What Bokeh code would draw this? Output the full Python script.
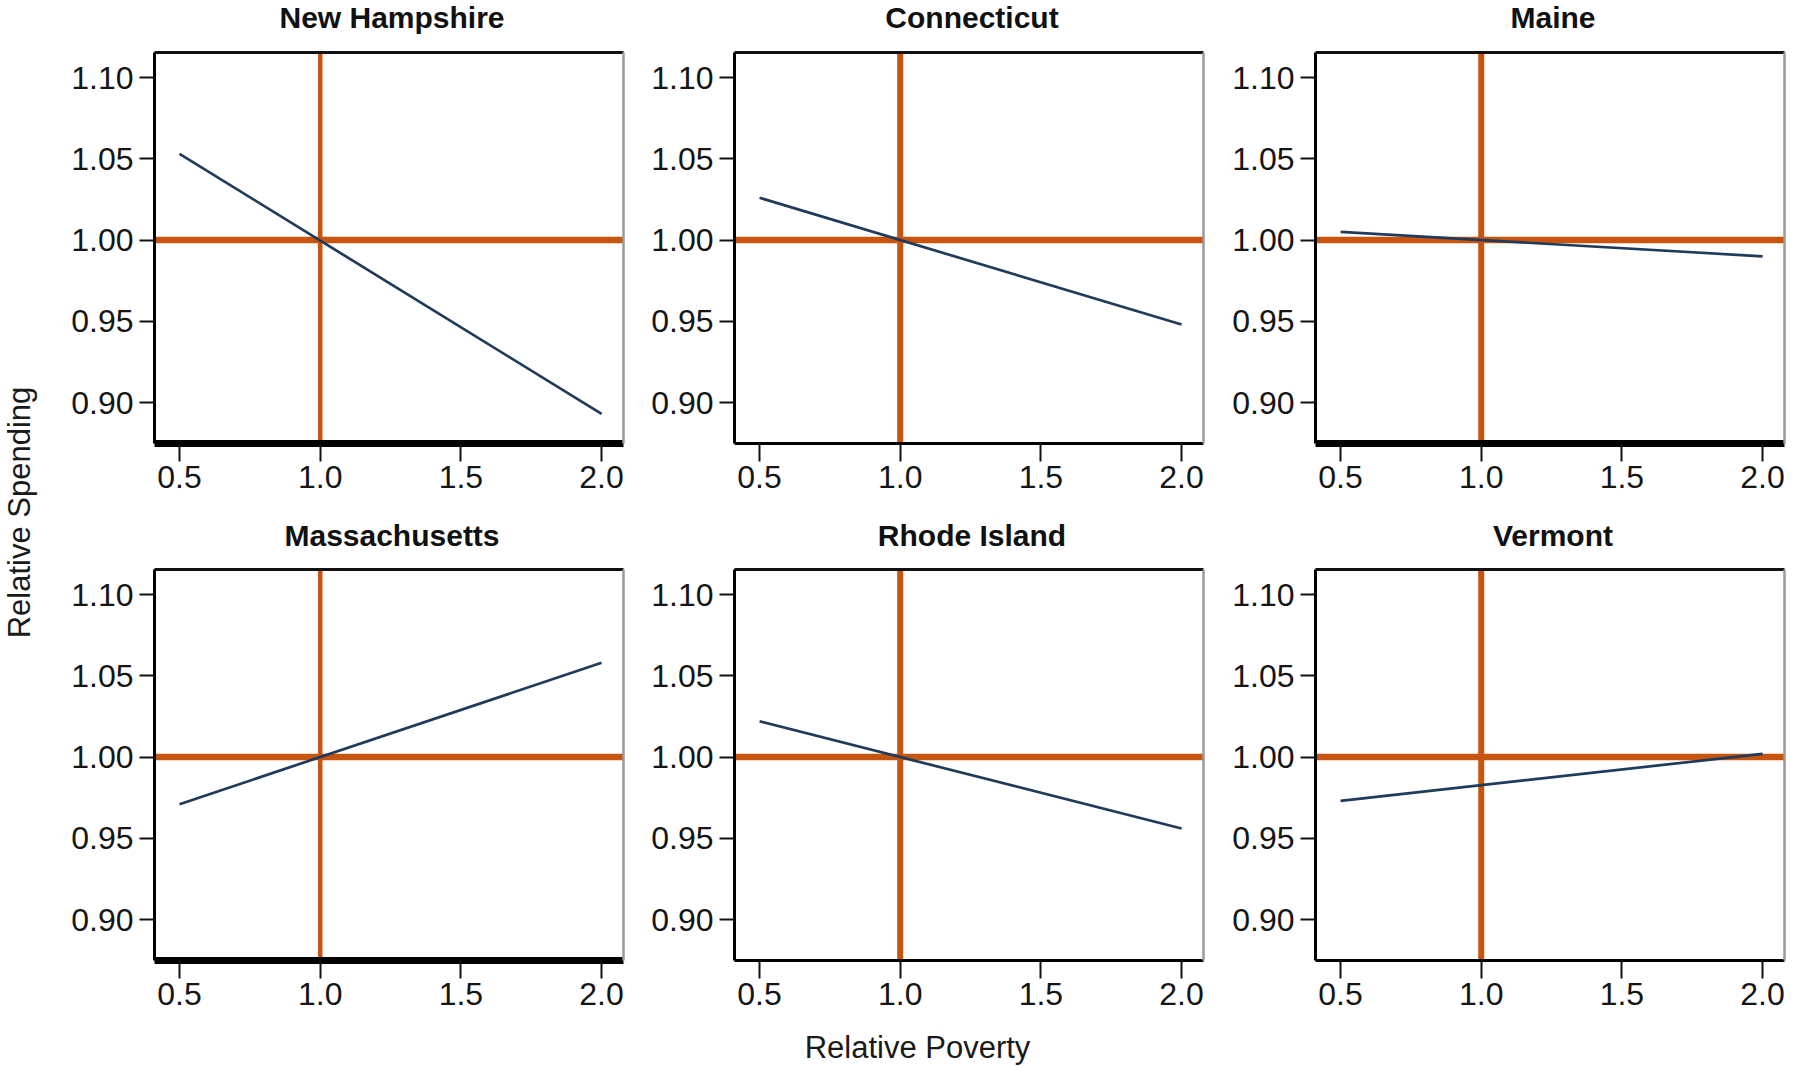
import math
from bokeh.plotting import figure
from bokeh.layouts import row, column
from bokeh.models import Span, Label, LinearAxis, FixedTicker, Range1d
from bokeh.embed import file_html
from bokeh.resources import INLINE

# ---- data ----
states = ["New Hampshire", "Connecticut", "Maine", "Massachusetts", "Rhode Island", "Vermont"]
relative_poverty = [0.5, 2.0]
nh_spending = [1.053, 0.893]
ct_spending = [1.026, 0.948]
me_spending = [1.005, 0.990]
ma_spending = [0.971, 1.058]
ri_spending = [1.022, 0.956]
vt_spending = [0.973, 1.002]
reference_poverty = 1.0
reference_spending = 1.0

x_ticks = [0.5, 1.0, 1.5, 2.0]
x_tick_labels = ["0.5", "1.0", "1.5", "2.0"]
y_ticks = [0.90, 0.95, 1.00, 1.05, 1.10]
y_tick_labels = ["0.90", "0.95", "1.00", "1.05", "1.10"]

series = [nh_spending, ct_spending, me_spending, ma_spending, ri_spending, vt_spending]

# ---- style ----
FONT = "Liberation Sans"
ORANGE = "#C8550F"
NAVY = "#1F3B5C"
FRAME_W = 469
FRAME_H = 391
YLAB_W = 45
col_left = [109, 106, 107]
col_right = [5, 5, 6]
row_top = [8, 9]
row_bottom = [60, 60]
title_h = [44, 57]
title_y = [27, 25]
bottom_widths = [7, 3, 7, 7, 3, 3]
vline_widths = [4.5, 6, 6, 4.5, 6, 6]
GRID_W = sum(col_left) + sum(col_right) + 3 * FRAME_W


def blank(width, height):
    f = figure(width=width, height=height, x_axis_location=None, y_axis_location=None,
               min_border=0, toolbar_location=None, output_backend="svg", title=None,
               outline_line_color=None, background_fill_color="white",
               border_fill_color="white", x_range=Range1d(0, width), y_range=Range1d(0, height))
    f.grid.visible = False
    return f


def make_panel(i):
    r, c = divmod(i, 3)
    p = figure(frame_width=FRAME_W, frame_height=FRAME_H,
               x_range=Range1d(0.411, 2.078), y_range=Range1d(0.8748, 1.1154),
               min_border_left=col_left[c], min_border_right=col_right[c],
               min_border_top=row_top[r], min_border_bottom=row_bottom[r],
               toolbar_location=None, output_backend="svg", title=None,
               background_fill_color="white", border_fill_color="white",
               outline_line_color=None)
    p.grid.visible = False

    xa = p.xaxis[0]
    xa.ticker = FixedTicker(ticks=x_ticks)
    xa.major_label_overrides = {t: l for t, l in zip(x_ticks, x_tick_labels)}
    xa.axis_line_width = bottom_widths[i]
    xa.axis_line_color = "black"
    xa.major_tick_out = 18
    xa.major_tick_in = 0
    xa.major_tick_line_width = 2
    xa.major_tick_line_color = "#111111"
    xa.minor_tick_line_color = None
    xa.major_label_standoff = 4
    xa.major_label_text_font = FONT
    xa.major_label_text_font_size = "32px"
    xa.major_label_text_color = "#151515"

    ya = p.yaxis[0]
    ya.ticker = FixedTicker(ticks=y_ticks)
    ya.major_label_overrides = {t: l for t, l in zip(y_ticks, y_tick_labels)}
    ya.axis_line_width = 3
    ya.axis_line_color = "black"
    ya.major_tick_out = 15
    ya.major_tick_in = 0
    ya.major_tick_line_width = 2
    ya.major_tick_line_color = "#111111"
    ya.minor_tick_line_color = None
    ya.major_label_standoff = 6
    ya.major_label_text_font = FONT
    ya.major_label_text_font_size = "32px"
    ya.major_label_text_color = "#151515"

    top = LinearAxis(ticker=FixedTicker(ticks=[]), axis_line_width=3, axis_line_color="#111111",
                     major_tick_out=0, major_tick_in=0, minor_tick_out=0, minor_tick_in=0,
                     major_label_standoff=0)
    p.add_layout(top, "above")
    right = LinearAxis(ticker=FixedTicker(ticks=[]), axis_line_width=2.5, axis_line_color="#9a9a9a",
                       major_tick_out=0, major_tick_in=0, minor_tick_out=0, minor_tick_in=0,
                       major_label_standoff=0)
    p.add_layout(right, "right")

    p.add_layout(Span(location=reference_spending, dimension="width", line_color=ORANGE,
                      line_width=6.5, level="underlay"))
    p.add_layout(Span(location=reference_poverty, dimension="height", line_color=ORANGE,
                      line_width=vline_widths[i], level="underlay"))

    p.line(relative_poverty, series[i], line_color=NAVY, line_width=2.7)
    return p


panels = [make_panel(i) for i in range(6)]

# panel title strips
title_figs = []
for r in range(2):
    tf = blank(GRID_W, title_h[r])
    x0 = 0
    for c in range(3):
        cx = x0 + col_left[c] + FRAME_W / 2 + 3
        tf.add_layout(Label(x=cx, y=title_y[r], x_units="screen", y_units="screen",
                            text=states[r * 3 + c], text_align="center", text_baseline="middle",
                            text_font=FONT, text_font_style="bold", text_font_size="30px",
                            text_color="#111111"))
        x0 += col_left[c] + FRAME_W + col_right[c]
    title_figs.append(tf)

TOTAL_H = title_h[0] + title_h[1] + 2 * FRAME_H + sum(row_top) + sum(row_bottom)
XLAB_H = 1065 - TOTAL_H
xlab = blank(GRID_W, XLAB_H)
xlab.add_layout(Label(x=917 - YLAB_W, y=XLAB_H - 27, x_units="screen", y_units="screen",
                      text="Relative Poverty", text_align="center",
                      text_baseline="middle", text_font=FONT, text_font_size="31px",
                      text_color="#1a1a1a"))

ylab = blank(YLAB_W, 1065)
ylab.add_layout(Label(x=19, y=1065 - 512, x_units="screen", y_units="screen",
                      text="Relative Spending", angle=math.pi / 2, text_align="center",
                      text_baseline="middle", text_font=FONT, text_font_size="31px",
                      text_color="#1a1a1a"))

layout = row(ylab, column(title_figs[0], row(*panels[:3]), title_figs[1],
                          row(*panels[3:]), xlab))

open("out.html", "w").write(file_html(layout, INLINE))
